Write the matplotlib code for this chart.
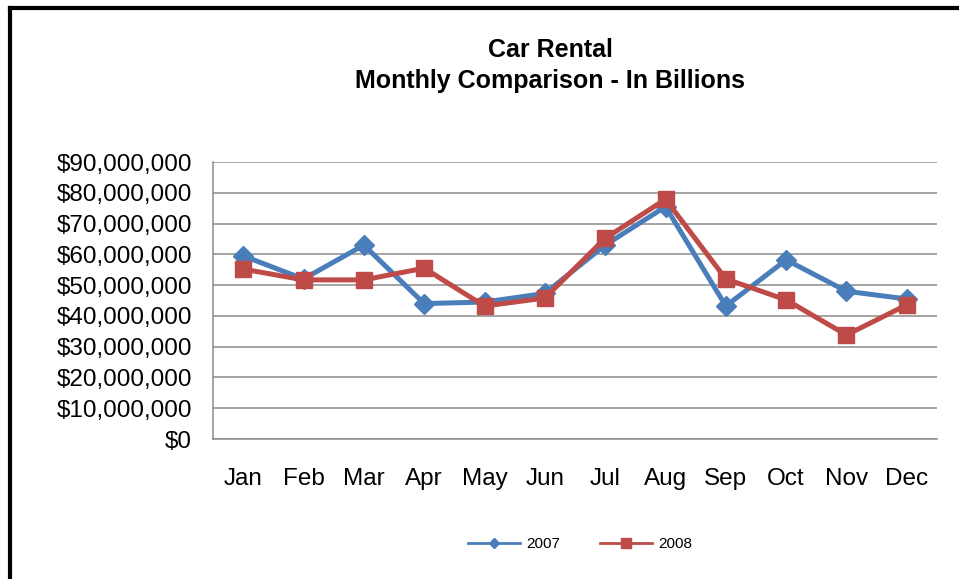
import matplotlib
matplotlib.use("Agg")
import matplotlib.pyplot as plt
from matplotlib.lines import Line2D
from matplotlib.ticker import FuncFormatter
import numpy as np

months = ["Jan", "Feb", "Mar", "Apr", "May", "Jun",
          "Jul", "Aug", "Sep", "Oct", "Nov", "Dec"]
# monthly rental revenue, in millions of dollars
rev_2007 = [59.5, 52.0, 63.0, 44.0, 44.5, 47.3, 63.0, 75.5, 43.2, 58.2, 48.0, 45.5]
rev_2008 = [55.2, 51.7, 51.7, 55.5, 43.2, 45.8, 65.2, 77.9, 52.0, 45.2, 33.8, 43.6]
series_names = ["2007", "2008"]

BLUE = "#4A7EBB"
RED = "#BE4B48"
GRID = "#8C8C8C"

plt.rcParams["font.family"] = ["Liberation Sans", "DejaVu Sans"]

fig = plt.figure(figsize=(9.59, 5.79), dpi=100)
ax = fig.add_axes([213 / 959, 1 - 439 / 579, 724 / 959, 277 / 579])

x = np.arange(len(months))
ax.plot(x, np.array(rev_2007) * 1e6, color=BLUE, lw=3.6, marker="D",
        markersize=10, zorder=3)
ax.plot(x, np.array(rev_2008) * 1e6, color=RED, lw=3.6, marker="s",
        markersize=12, zorder=4)

ax.set_xlim(-0.5, 11.5)
ax.set_ylim(0, 90e6)
ax.set_yticks(np.arange(0, 90e6 + 1, 10e6))
ax.yaxis.set_major_formatter(FuncFormatter(lambda v, p: "${:,.0f}".format(v)))
ax.set_xticks(x)
ax.set_xticklabels(months)
ax.tick_params(axis="y", length=0, pad=15, labelsize=17.5)
ax.tick_params(axis="x", length=0, pad=21, labelsize=17.5)

ax.grid(axis="y", color=GRID, lw=1.1)
ax.set_axisbelow(True)
for side in ["top", "right"]:
    ax.spines[side].set_visible(False)
for side in ["left", "bottom"]:
    ax.spines[side].set_color(GRID)
    ax.spines[side].set_linewidth(1.1)

fig.text(550 / 959, 1 - 50 / 579, "Car Rental", ha="center", va="center",
         fontsize=18, fontweight="bold")
fig.text(550 / 959, 1 - 81 / 579, "Monthly Comparison - In Billions",
         ha="center", va="center", fontsize=18, fontweight="bold")

handles = [
    Line2D([], [], color=BLUE, lw=2, marker="D", markersize=5),
    Line2D([], [], color=RED, lw=2, marker="s", markersize=7),
]
fig.legend(handles, series_names, loc="center", bbox_to_anchor=(0.605, 1 - 544 / 579),
           ncol=2, frameon=False, fontsize=11, handlelength=3.4,
           handletextpad=0.4, columnspacing=2.6)

# black frame along the left and top edge
fig.add_artist(Line2D([10 / 959, 10 / 959], [0, 1 - 8 / 579], color="black", lw=3,
                      transform=fig.transFigure))
fig.add_artist(Line2D([10 / 959, 1], [1 - 8 / 579, 1 - 8 / 579], color="black", lw=3,
                      transform=fig.transFigure))

fig.savefig("out.png", dpi=100)
